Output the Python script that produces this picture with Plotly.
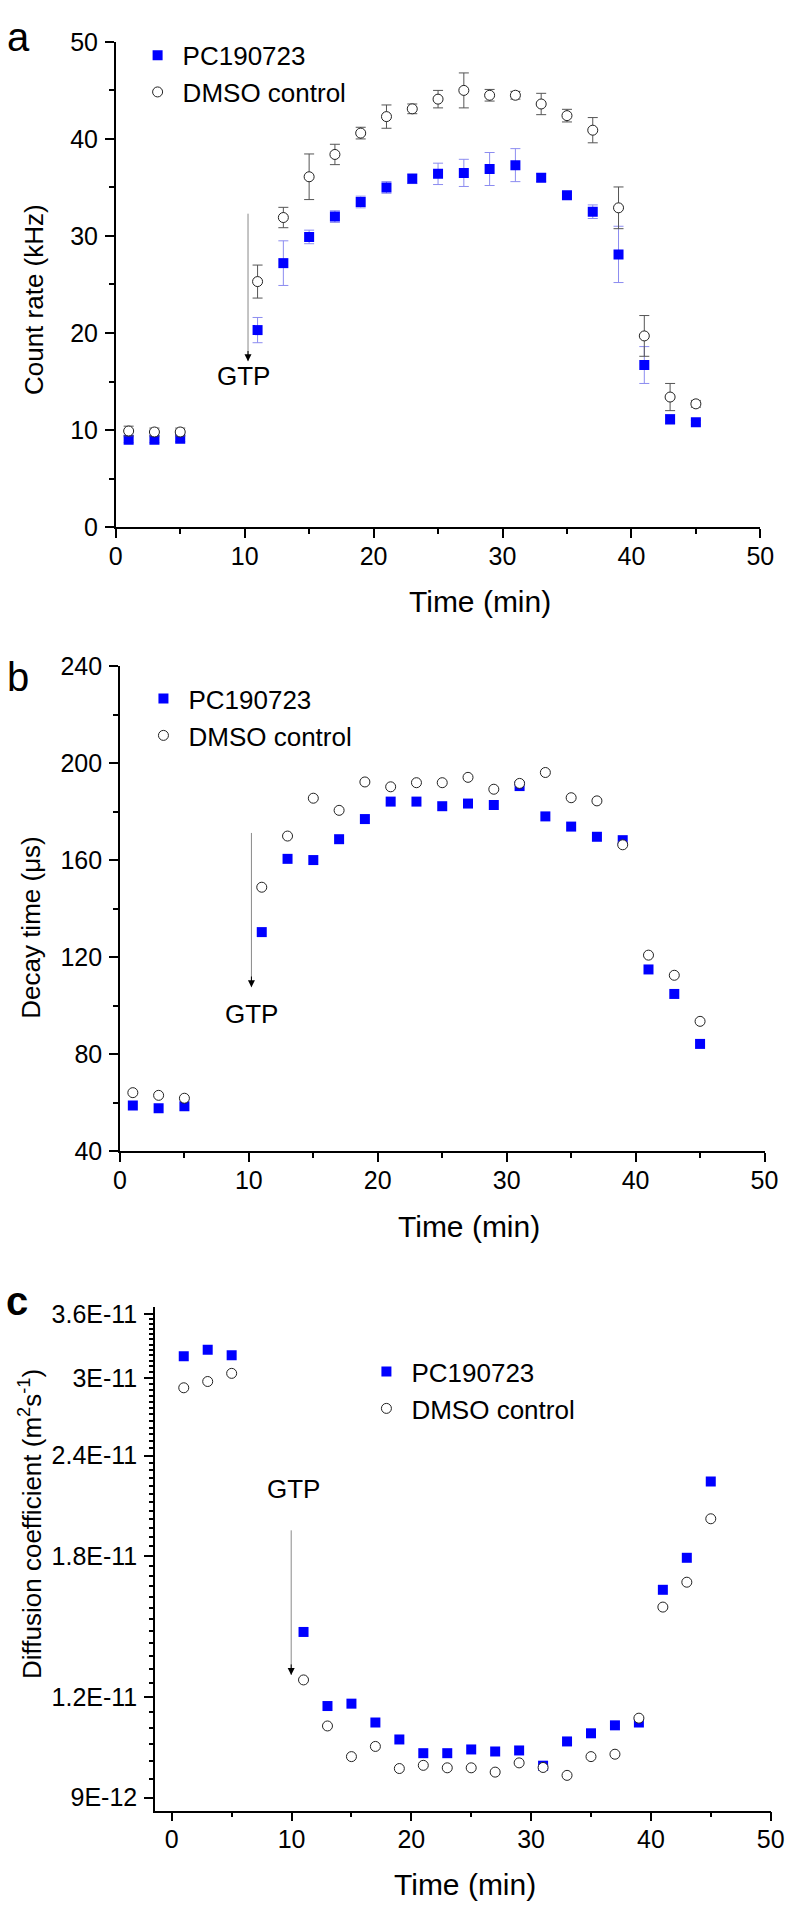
import math
import plotly.graph_objects as go

# ---- data ----
time_min = [1, 3, 5, 11, 13, 15, 17, 19, 21, 23, 25, 27, 29, 31, 33, 35, 37, 39, 41, 43, 45]

count_pc = [9.0, 9.0, 9.1, 20.3, 27.2, 29.9, 32.0, 33.5, 35.0, 35.9, 36.4, 36.5, 36.9, 37.3,
            36.0, 34.2, 32.5, 28.1, 16.7, 11.1, 10.8]
count_pc_err = [0.3, 0.3, 0.3, 1.3, 2.3, 0.7, 0.6, 0.6, 0.6, 0.5, 1.1, 1.4, 1.7, 1.7,
                0.4, 0.3, 0.7, 2.9, 1.9, 0.5, 0.2]
count_dmso = [9.9, 9.8, 9.8, 25.3, 31.9, 36.1, 38.4, 40.6, 42.3, 43.1, 44.1, 45.0, 44.5, 44.5,
              43.6, 42.4, 40.9, 32.9, 19.7, 13.4, 12.7]
count_dmso_err = [0.5, 0.4, 0.4, 1.7, 1.05, 2.35, 1.05, 0.6, 1.2, 0.5, 0.9, 1.8, 0.6, 0.4,
                  1.1, 0.65, 1.3, 2.15, 2.1, 1.4, 0.35]

decay_pc = [58.8, 57.7, 58.5, 130.3, 160.5, 160.0, 168.6, 176.9, 184.1, 184.1, 182.2, 183.3,
            182.7, 190.5, 178.0, 173.8, 169.6, 168.2, 114.9, 104.8, 84.2]
decay_dmso = [64.1, 63.0, 61.8, 148.8, 169.9, 185.5, 180.5, 192.2, 190.2, 191.9, 191.9, 194.1,
              189.2, 191.6, 196.1, 185.7, 184.4, 166.3, 120.8, 112.5, 93.5]

diff_pc = [3.19e-11, 3.25e-11, 3.20e-11, 1.447e-11, 1.17e-11, 1.178e-11, 1.116e-11, 1.063e-11,
           1.022e-11, 1.022e-11, 1.033e-11, 1.027e-11, 1.03e-11, 9.86e-12, 1.057e-11,
           1.082e-11, 1.107e-11, 1.116e-11, 1.633e-11, 1.79e-11, 2.228e-11]
diff_dmso = [2.915e-11, 2.968e-11, 3.038e-11, 1.261e-11, 1.105e-11, 1.012e-11, 1.042e-11,
             9.78e-12, 9.87e-12, 9.80e-12, 9.80e-12, 9.68e-12, 9.94e-12, 9.81e-12, 9.59e-12,
             1.012e-11, 1.019e-11, 1.13e-11, 1.554e-11, 1.669e-11, 2.002e-11]

diff_tickvals = [9e-12, 1.2e-11, 1.8e-11, 2.4e-11, 3e-11, 3.6e-11]
diff_ticktext = ["9E-12", "1.2E-11", "1.8E-11", "2.4E-11", "3E-11", "3.6E-11"]

# ---- page geometry (pixels) ----
W, H = 798, 1914
FONT = "Liberation Sans, Arial, sans-serif"
BLUE = "#0000ff"


def px(p):
    return p / W


def py(p):
    return 1 - p / H


fig = go.Figure()

panels = [
    ("x", "y", "legend", count_pc, count_dmso, count_pc_err, count_dmso_err),
    ("x2", "y2", "legend2", decay_pc, decay_dmso, None, None),
    ("x3", "y3", "legend3", diff_pc, diff_dmso, None, None),
]

for xa, ya, leg, pc, dmso, pc_err, dmso_err in panels:
    fig.add_trace(go.Scatter(
        x=time_min, y=pc, mode="markers", name="PC190723",
        xaxis=xa, yaxis=ya, legend=leg,
        marker=dict(symbol="square", size=10, color=BLUE, line=dict(width=0)),
        error_y=dict(type="data", array=pc_err, color="#8c8cf0", thickness=1, width=5,
                     visible=pc_err is not None),
    ))
    fig.add_trace(go.Scatter(
        x=time_min, y=dmso, mode="markers", name="DMSO control",
        xaxis=xa, yaxis=ya, legend=leg,
        marker=dict(symbol="circle", size=10, color="white", line=dict(width=1, color="#222")),
        error_y=dict(type="data", array=dmso_err, color="#555", thickness=1, width=5,
                     visible=dmso_err is not None),
    ))

axis_style = dict(
    showline=True, linecolor="black", linewidth=1.5, mirror=False,
    ticks="outside", ticklen=9, tickwidth=1.5, tickcolor="black",
    showgrid=False, zeroline=False,
    tickfont=dict(family=FONT, size=25, color="black"),
)
xstyle = dict(axis_style, ticklabelstandoff=-3)
ystyle = dict(axis_style, ticklabelstandoff=2)
minor_style = dict(ticks="outside", ticklen=5, tickwidth=1.5, tickcolor="black", showgrid=False)

fig.update_layout(
    width=W, height=H,
    margin=dict(l=0, r=0, t=0, b=0),
    paper_bgcolor="white", plot_bgcolor="white",
    font=dict(family=FONT, size=24, color="black"),
    showlegend=True,
    xaxis=dict(xstyle, domain=[px(111.7), px(773.7)], range=[0, 50], dtick=10, anchor="y",
               minor=dict(minor_style, dtick=5)),
    yaxis=dict(ystyle, domain=[py(520.7), py(28.3)], range=[0, 50], dtick=10, anchor="x",
               minor=dict(minor_style, dtick=5)),
    xaxis2=dict(xstyle, domain=[px(116), px(778)], range=[0, 50], dtick=10, anchor="y2",
                minor=dict(minor_style, dtick=5)),
    yaxis2=dict(ystyle, domain=[py(1154), py(661.7)], range=[40, 240], tick0=40, dtick=40,
                anchor="x2", minor=dict(minor_style, dtick=20)),
    xaxis3=dict(xstyle, domain=[px(152), px(784.3)], range=[-1.4, 50], tick0=0, dtick=10,
                anchor="y3", minor=dict(minor_style, tick0=0, dtick=5)),
    yaxis3=dict(ystyle, type="log", domain=[py(1823.3), py(1312)],
                range=[-11.0621, -10.4345], tickmode="array",
                tickvals=diff_tickvals, ticktext=diff_ticktext, anchor="x3",
                minor=dict(minor_style, ticklen=4, tickmode="array",
                           tickvals=[k * 5e-13 for k in range(18, 73)])),
)

legend_style = dict(xanchor="left", yanchor="top", bgcolor="rgba(0,0,0,0)", itemwidth=40,
                    font=dict(family=FONT, size=26, color="black"), tracegroupgap=0)
fig.update_layout(
    legend=dict(legend_style, x=px(129), y=py(18)),
    legend2=dict(legend_style, x=px(135), y=py(671)),
    legend3=dict(legend_style, x=px(364), y=py(1354)),
)

annotations = []

# panel letters
annotations.append(dict(text="a", x=px(12), y=1, xref="paper", yref="paper", showarrow=False,
                        xanchor="center", yanchor="top", borderpad=0,
                        font=dict(family=FONT, size=40, color="black")))
annotations.append(dict(text="b", x=px(11), y=py(697), xref="paper", yref="paper", showarrow=False,
                        xanchor="center", yanchor="bottom",
                        font=dict(family=FONT, size=40, color="black")))
annotations.append(dict(text="<b>c</b>", x=px(10), y=py(1330), xref="paper", yref="paper",
                        showarrow=False, xanchor="center", yanchor="bottom",
                        font=dict(family=FONT, size=40, color="black")))

# axis titles
for text, cx, cy, size, angle in [
    ("Time (min)", 486, 596, 30, 0),
    ("Time (min)", 474, 1230, 30, 0),
    ("Time (min)", 470, 1898, 30, 0),
    ("Count rate (kHz)", 27, 290, 26, -90),
    ("Decay time (μs)", 25, 927, 26, -90),
    ("Diffusion coefficient (m<sup>2</sup>s<sup>-1</sup>)", 24, 1532, 26, -90),
]:
    annotations.append(dict(
        text=text, x=px(cx), y=py(cy), xref="paper", yref="paper", showarrow=False,
        xanchor="center", yanchor="middle", textangle=angle,
        font=dict(family=FONT, size=size, color="black")))

# GTP arrows: grey shaft, black head
gtp = [
    ("x", "y", 10.26, 32.45, 17.1, 1.2, 9.9, 15.6),
    ("x2", "y2", 10.2, 171.8, 107.6, 5.0, 10.2, 96.6),
    ("x3", "y3", 9.97, math.log10(1.945e-11), math.log10(1.279e-11), 0.015, 10.2,
     math.log10(2.178e-11)),
]
for xa, ya, ax_, y_top, y_tip, head, tx, ty in gtp:
    annotations.append(dict(
        x=ax_, y=y_tip, ax=ax_, ay=y_top, xref=xa, yref=ya, axref=xa, ayref=ya,
        text="", showarrow=True, arrowhead=0, arrowwidth=1,
        arrowcolor="#8a8a8a", standoff=0, startstandoff=0))
    annotations.append(dict(
        x=ax_, y=y_tip, ax=ax_, ay=y_tip + head, xref=xa, yref=ya, axref=xa, ayref=ya,
        text="", showarrow=True, arrowhead=2, arrowsize=1.4, arrowwidth=1,
        arrowcolor="black", standoff=0, startstandoff=0))
    annotations.append(dict(
        x=tx, y=ty, xref=xa, yref=ya, text="GTP", showarrow=False,
        font=dict(family=FONT, size=26, color="black")))

fig.update_layout(annotations=annotations)

fig.write_html("out.html", config={"displayModeBar": False},
               post_script="document.body.style.margin='0';")
